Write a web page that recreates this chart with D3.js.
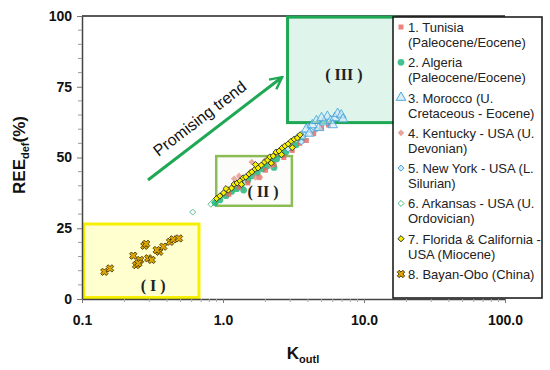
<!DOCTYPE html>
<html>
<head>
<meta charset="utf-8">
<script src="https://cdn.jsdelivr.net/npm/d3@7"></script>
<style>
  body { margin: 0; background: #fff; }
  svg { font-family: Arial, "Liberation Sans", sans-serif; }
</style>
</head>
<body>
<svg width="550" height="370"></svg>
<script>
// series: [Koutl, REEdef]
const tunisia = [[1.1,37.0],[1.3,39.5],[1.5,41.0],[1.8,43.0],[2.0,45.5],[2.3,47.5],[2.7,50.0],[3.1,52.5],[3.5,55.0],[3.9,56.0],[4.4,58.5],[5.0,60.5],[5.6,61.5],[1.6,45.0],[2.5,52.0]];
const algeria = [[0.88,34.0],[0.95,35.0],[1.05,36.5],[1.15,38.0],[1.25,39.0],[1.35,40.5],[1.5,42.0],[1.6,43.5],[1.75,44.5],[1.9,46.0],[2.05,47.0],[2.2,48.5],[2.4,49.5],[2.6,51.0],[2.8,52.0],[3.0,53.5],[3.3,54.5],[3.6,56.0],[1.4,38.5],[2.3,46.5]];
const morocco = [[3.9,60.0],[4.3,61.5],[4.6,63.0],[4.8,60.5],[5.2,62.5],[5.5,64.5],[5.8,63.0],[6.2,64.0],[6.5,65.5],[6.9,65.0],[7.1,63.5],[4.1,58.5],[5.0,64.0],[6.0,61.5],[3.6,57.5]];
const kentucky = [[1.2,42.5],[1.3,43.5],[1.6,48.4],[1.83,43.0],[1.7,43.0],[1.8,47.0],[2.0,49.0],[2.2,47.0],[2.4,51.5]];
const newYork = [[2.9,53.0],[3.0,55.0],[3.4,57.5],[3.6,55.5],[3.8,58.0],[4.0,61.0],[4.2,59.5],[4.6,60.0]];
const arkansas = [[0.61,30.7],[0.82,33.5],[0.86,34.5],[0.92,35.5],[1.0,37.0]];
const florida = [[0.90,35.5],[0.95,36.4],[1.01,37.5],[1.09,38.5],[1.15,39.2],[1.20,40.6],[1.26,41.0],[1.32,41.7],[1.39,42.8],[1.45,43.1],[1.53,44.2],[1.60,44.9],[1.69,45.9],[1.77,46.3],[1.87,47.3],[1.97,48.4],[2.07,49.1],[2.15,50.2],[2.27,50.5],[2.38,51.9],[2.50,52.3],[2.63,53.4],[2.75,54.1],[2.90,54.8],[3.05,55.8],[3.20,56.5],[3.37,56.9],[3.52,58.0],[1.05,39.0],[1.35,40.5],[1.7,47.5],[2.2,48.0],[2.6,51.0],[3.1,53.5]];
const bayanObo = [[0.144,9.6],[0.158,10.8],[0.231,15.3],[0.277,18.8],[0.242,12.0],[0.258,13.8],[0.295,14.4],[0.312,13.8],[0.353,16.7],[0.377,18.5],[0.421,20.2],[0.444,21.1],[0.487,21.4],[0.251,12.6],[0.339,17.3],[0.285,19.5]];

const legendLabels = [
  ["1. Tunisia", "(Paleocene/Eocene)"],
  ["2. Algeria", "(Paleocene/Eocene)"],
  ["3. Morocco (U.", "Cretaceous - Eocene)"],
  ["4. Kentucky - USA (U.", "Devonian)"],
  ["5. New York - USA (L.", "Silurian)"],
  ["6. Arkansas - USA (U.", "Ordovician)"],
  ["7. Florida & California -", "USA (Miocene)"],
  ["8. Bayan-Obo (China)"]
];

const yTicks = [0, 25, 50, 75, 100];
const xTicks = [0.1, 1, 10, 100];

// regions (I), (II), (III): [x0, x1, y0, y1]
const regionI = [0.1, 0.676, 0, 26.5];
const regionII = [0.877, 3.08, 32.5, 50.5];
const regionIII = [2.8, 16.6, 61.8, 99.6];

const svg = d3.select("svg");
const plotLeft = 82, plotRight = 505, plotTop = 16, plotBottom = 299;

const x = d3.scaleLog().domain([0.1, 100]).range([plotLeft, plotRight]);
const y = d3.scaleLinear().domain([0, 100]).range([plotBottom, plotTop]);

// plot frame top line
svg.append("line")
  .attr("x1", plotLeft).attr("x2", plotRight)
  .attr("y1", plotTop).attr("y2", plotTop)
  .attr("stroke", "#222").attr("stroke-width", 1.5);

// region boxes
function region(r, fill, stroke, sw) {
  svg.append("rect")
    .attr("x", x(r[0]) + sw / 2)
    .attr("y", y(r[3]))
    .attr("width", x(r[1]) - x(r[0]) - sw / 2)
    .attr("height", y(r[2]) - y(r[3]) - sw / 2)
    .attr("fill", fill)
    .attr("stroke", stroke)
    .attr("stroke-width", sw);
}
region(regionI, "#ffffd0", "#f5f000", 3);
region(regionIII, "#dff5ec", "#1ea854", 3);

// axes
const yAxis = svg.append("g")
  .attr("transform", `translate(${plotLeft},0)`)
  .call(d3.axisLeft(y).tickValues(yTicks).tickSize(5).tickSizeOuter(0));
const xAxis = svg.append("g")
  .attr("transform", `translate(0,${plotBottom})`)
  .call(d3.axisBottom(x).tickValues(xTicks).tickFormat(d3.format(".1f")).tickSize(4).tickSizeOuter(0));
[yAxis, xAxis].forEach(g => {
  g.select(".domain").attr("stroke", "#444").attr("stroke-width", 1.5);
  g.selectAll(".tick line").attr("stroke", "#777");
  g.selectAll("text").attr("font-size", 14).attr("font-weight", "bold")
    .attr("fill", "#111").attr("font-family", "Arial, 'Liberation Sans', sans-serif");
});
yAxis.selectAll("text").attr("x", -10);
xAxis.selectAll("text").attr("y", 16);

// minor ticks
svg.append("g").selectAll("line")
  .data(d3.range(5, 100, 5).filter(v => v % 25 != 0))
  .join("line")
  .attr("x1", plotLeft - 4).attr("x2", plotLeft)
  .attr("y1", d => y(d)).attr("y2", d => y(d))
  .attr("stroke", "#999");
const minorX = [];
[0.1, 1, 10].forEach(d => { for (let k = 2; k < 10; k++) minorX.push(d * k); });
svg.append("g").selectAll("line")
  .data(minorX)
  .join("line")
  .attr("x1", d => x(d)).attr("x2", d => x(d))
  .attr("y1", plotBottom).attr("y2", plotBottom + 3)
  .attr("stroke", "#aaa");

// region II on top of the axis
region(regionII, "rgba(250,252,246,0.6)", "#8dbb55", 2.5);

// markers
const sym = (type, size) => d3.symbol().type(type).size(size)();
const styles = [
  { data: tunisia, path: sym(d3.symbolSquare, 25), fill: "#e8645c", stroke: "none", op: 0.8 },
  { data: algeria, path: sym(d3.symbolCircle, 36), fill: "#22b77e", stroke: "none", op: 0.85 },
  { data: morocco, path: sym(d3.symbolTriangle, 40), fill: "#cfe8f6", stroke: "#3b9fd8", op: 0.6 },
  { data: kentucky, path: sym(d3.symbolSquare, 22), fill: "#e58d86", stroke: "none", op: 0.75, rot: 45 },
  { data: newYork, path: sym(d3.symbolSquare, 18), fill: "#cfe9f7", stroke: "#3b9fd8", op: 1, rot: 45 },
  { data: arkansas, path: sym(d3.symbolSquare, 18), fill: "#fff", stroke: "#3cb878", op: 1, rot: 45 },
  { data: florida, path: sym(d3.symbolSquare, 19), fill: "#f5f000", stroke: "#222", op: 1, rot: 45 },
  { data: bayanObo, path: sym(d3.symbolCross, 34), fill: "#e0a800", stroke: "#3a2a00", op: 1, rot: 45 }
];

// draw order: Arkansas first, Florida and Bayan-Obo last
[5, 1, 0, 3, 4, 2, 6, 7].forEach(i => {
  const s = styles[i];
  svg.append("g").selectAll("path")
    .data(s.data)
    .join("path")
    .attr("d", s.path)
    .attr("transform", d => `translate(${x(d[0])},${y(d[1])}) rotate(${s.rot || 0})`)
    .attr("fill", s.fill)
    .attr("fill-opacity", s.op)
    .attr("stroke", s.stroke)
    .attr("stroke-width", 0.8);
});

// region labels
const romanFont = "'Liberation Serif', 'DejaVu Serif', serif";
[["( III )", 7.2, 77.5], ["( II )", 1.92, 36], ["( I )", 0.32, 2.8]].forEach(l => {
  svg.append("text")
    .attr("x", x(l[1])).attr("y", y(l[2]))
    .attr("text-anchor", "middle")
    .attr("font-family", romanFont)
    .attr("font-weight", "bold")
    .attr("font-size", 16)
    .attr("fill", "#222")
    .text(l[0]);
});

// promising trend arrow
svg.append("defs").append("marker")
  .attr("id", "arrow").attr("viewBox", "0 0 10 10")
  .attr("refX", 8).attr("refY", 5)
  .attr("markerWidth", 5).attr("markerHeight", 5)
  .attr("orient", "auto")
  .append("path").attr("d", "M1,1 L9,5 L1,9").attr("fill", "none")
  .attr("stroke", "#1ea854").attr("stroke-width", 1.6);
svg.append("line")
  .attr("x1", 148).attr("y1", 180).attr("x2", 281).attr("y2", 78)
  .attr("stroke", "#1ea854").attr("stroke-width", 3)
  .attr("marker-end", "url(#arrow)");
svg.append("text")
  .attr("transform", "translate(203,123) rotate(-37.5)")
  .attr("text-anchor", "middle")
  .attr("font-size", 16)
  .attr("fill", "#111")
  .text("Promising trend");

// axis titles
const yTitle = svg.append("text")
  .attr("transform", "translate(25,155) rotate(-90)")
  .attr("text-anchor", "middle")
  .attr("font-size", 17).attr("font-weight", "bold").attr("fill", "#111");
yTitle.append("tspan").text("REE");
yTitle.append("tspan").attr("font-size", 11).attr("dy", 4).text("def");
yTitle.append("tspan").attr("dy", -4).text("(%)");

const xTitle = svg.append("text")
  .attr("x", 303).attr("y", 359)
  .attr("text-anchor", "middle")
  .attr("font-size", 17).attr("font-weight", "bold").attr("fill", "#111");
xTitle.append("tspan").text("K");
xTitle.append("tspan").attr("font-size", 11).attr("dy", 4).text("outl");

// legend
const lg = svg.append("g");
lg.append("rect")
  .attr("x", 393).attr("y", 17).attr("width", 149).attr("height", 281)
  .attr("fill", "#fff").attr("stroke", "#111").attr("stroke-width", 1.5);
const legendY = d3.scalePoint().domain(d3.range(8)).range([28, 275]);
legendLabels.forEach((lines, i) => {
  const s = styles[i];
  const yy = legendY(i);
  lg.append("path")
    .attr("d", s.path)
    .attr("transform", `translate(401,${yy - 1}) rotate(${s.rot || 0})`)
    .attr("fill", s.fill).attr("fill-opacity", Math.max(s.op, 0.8))
    .attr("stroke", s.stroke).attr("stroke-width", 0.9);
  lines.forEach((t, j) => {
    lg.append("text")
      .attr("x", 408).attr("y", yy + 4 + j * 15)
      .attr("font-size", 13).attr("fill", "#222")
      .text(t);
  });
});
</script>
</body>
</html>
